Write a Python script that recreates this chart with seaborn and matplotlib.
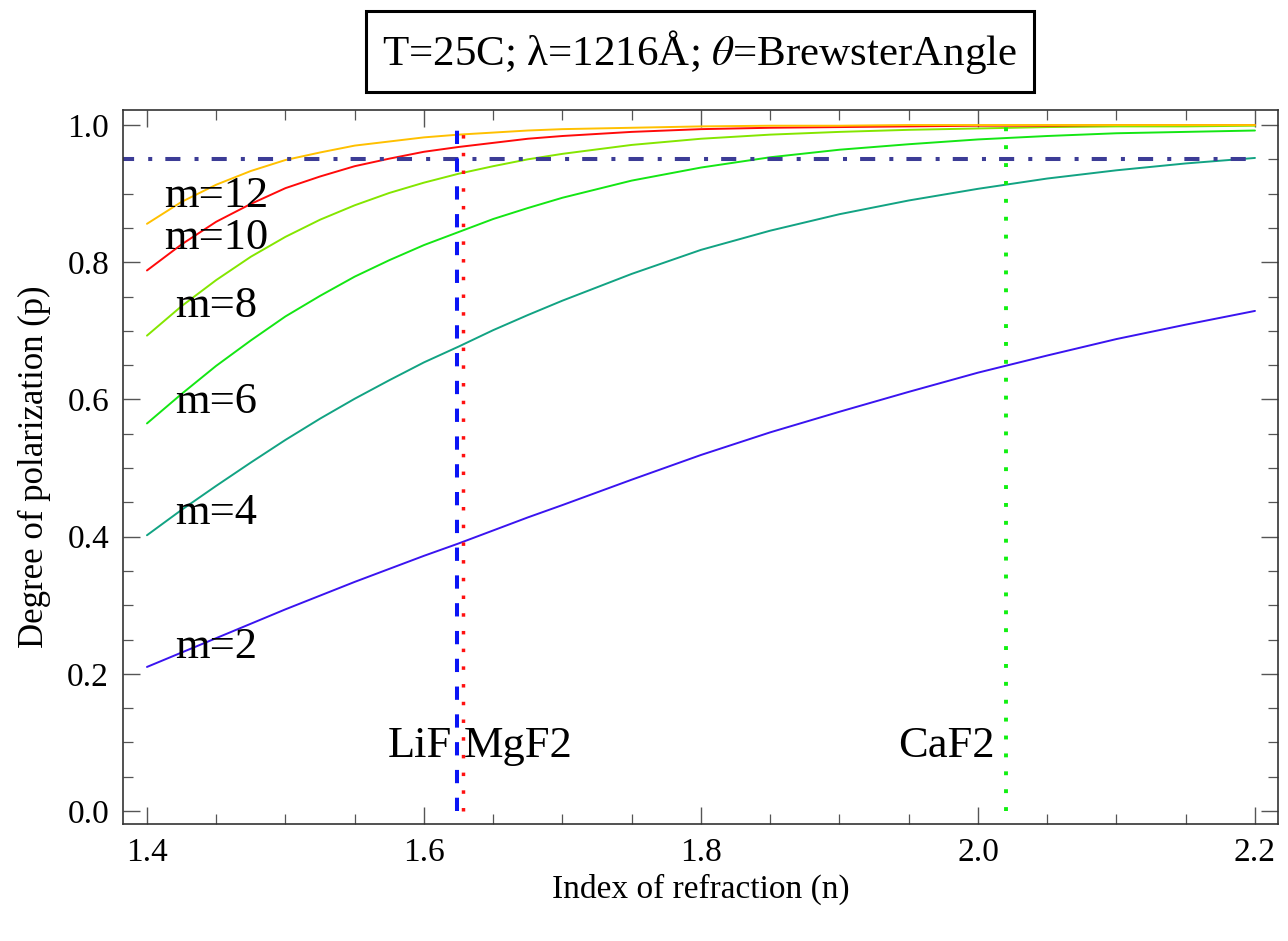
import numpy as np
import pandas as pd
import seaborn as sns
import matplotlib
matplotlib.use("Agg")
import matplotlib.pyplot as plt
from matplotlib.ticker import MultipleLocator

# index of refraction samples
n_vals = [1.40, 1.425, 1.45, 1.475, 1.50, 1.525, 1.55, 1.575, 1.60, 1.625, 1.65, 1.675,
          1.70, 1.75, 1.80, 1.85, 1.90, 1.95, 2.00, 2.05, 2.10, 2.15, 2.20]

# degree of polarization for m plates
p_m2 = [0.210, 0.231, 0.252, 0.273, 0.294, 0.314, 0.334, 0.353, 0.372, 0.390, 0.409, 0.428,
        0.446, 0.483, 0.519, 0.552, 0.582, 0.611, 0.639, 0.664, 0.688, 0.709, 0.729]
p_m4 = [0.402, 0.439, 0.474, 0.508, 0.541, 0.572, 0.601, 0.628, 0.654, 0.677, 0.701, 0.723,
        0.744, 0.783, 0.818, 0.846, 0.870, 0.890, 0.907, 0.922, 0.934, 0.944, 0.952]
p_m6 = [0.565, 0.608, 0.649, 0.686, 0.721, 0.751, 0.779, 0.803, 0.825, 0.844, 0.863, 0.879,
        0.894, 0.919, 0.938, 0.953, 0.964, 0.972, 0.979, 0.984, 0.988, 0.990, 0.992]
p_m8 = [0.693, 0.736, 0.774, 0.808, 0.837, 0.862, 0.883, 0.901, 0.916, 0.929, 0.940, 0.950,
        0.958, 0.971, 0.980, 0.986, 0.990, 0.993, 0.995, 0.997, 0.998, 0.998, 0.999]
p_m10 = [0.788, 0.826, 0.859, 0.885, 0.908, 0.925, 0.940, 0.951, 0.961, 0.968, 0.974, 0.980,
         0.984, 0.990, 0.994, 0.996, 0.997, 0.998, 0.999, 0.999, 1.000, 1.000, 1.000]
p_m12 = [0.856, 0.888, 0.913, 0.933, 0.949, 0.960, 0.970, 0.976, 0.982, 0.986, 0.989, 0.992,
         0.994, 0.996, 0.998, 0.999, 0.999, 1.000, 1.000, 1.000, 1.000, 1.000, 1.000]

m_labels = ["m=2", "m=4", "m=6", "m=8", "m=10", "m=12"]
label_y = [0.2225, 0.418, 0.580, 0.7205, 0.820, 0.881]
curve_colors = ["#3a14f0", "#12a383", "#14e614", "#84e600", "#ff0a0a", "#ffc000"]

# crystals and their index at 1216 A
crystals = ["LiF", "MgF2", "CaF2"]
crystal_n = [1.624, 1.628, 2.020]
p_target = 0.95

sns.set_style("ticks")
plt.rcParams["font.family"] = ["Liberation Serif", "DejaVu Serif"]
plt.rcParams["mathtext.fontset"] = "stix"
plt.rcParams["text.color"] = "black"
plt.rcParams["axes.labelcolor"] = "black"
plt.rcParams["xtick.labelcolor"] = "black"
plt.rcParams["ytick.labelcolor"] = "black"

df = pd.DataFrame({
    "n": n_vals * 6,
    "p": p_m2 + p_m4 + p_m6 + p_m8 + p_m10 + p_m12,
    "m": np.repeat(m_labels, len(n_vals)),
})

fig = plt.figure(figsize=(12.88, 9.41), dpi=100)
ax = fig.add_axes([0.0955, 0.1243, 0.8967, 0.7588])

sns.lineplot(data=df, x="n", y="p", hue="m", palette=dict(zip(m_labels, curve_colors)),
             linewidth=1.4, legend=False, ax=ax)

# reference lines
ax.plot([1.38, 2.2], [p_target, p_target], color="#3c3c96", lw=2.9,
        dashes=(3.75, 3.5, 1.0, 3.25), dash_capstyle="butt")
ax.plot([crystal_n[0]] * 2, [0, 1], color="#0a14f5", lw=2.9,
        dashes=(3.3, 3.6), dash_capstyle="butt")
ax.plot([crystal_n[1]] * 2, [0, 1], color="#ff1010", lw=2.5,
        dashes=(1, 4.1), dash_capstyle="butt")
ax.plot([crystal_n[2]] * 2, [0, 1], color="#10f010", lw=2.8,
        dashes=(1, 3.6), dash_capstyle="butt")

for lab, yv in zip(m_labels, label_y):
    ax.text(1.45, yv, lab, fontsize=32, ha="center", va="baseline")

ax.text(1.620, 0.078, crystals[0], fontsize=32, ha="right", va="baseline")
ax.text(1.629, 0.078, crystals[1], fontsize=32, ha="left", va="baseline")
ax.text(2.012, 0.078, crystals[2], fontsize=32, ha="right", va="baseline")

ax.set_xlim(1.3827, 2.2166)
ax.set_ylim(-0.019, 1.0219)
ax.xaxis.set_major_locator(MultipleLocator(0.2))
ax.xaxis.set_minor_locator(MultipleLocator(0.05))
ax.yaxis.set_major_locator(MultipleLocator(0.2))
ax.yaxis.set_minor_locator(MultipleLocator(0.05))
ax.xaxis.set_major_formatter(lambda v, pos: f"{v:.1f}")
ax.yaxis.set_major_formatter(lambda v, pos: f"{v:.1f}")
ax.tick_params(which="both", direction="in", top=True, right=True, color="#555555")
ax.tick_params(which="major", length=12, width=1.0, labelsize=24, pad=10)
ax.tick_params(which="minor", length=7, width=0.9)
for sp in ax.spines.values():
    sp.set_color("#333333")
    sp.set_linewidth(1.2)

ax.set_xlabel("Index of refraction (n)", fontsize=24, labelpad=4)
ax.set_ylabel("Degree of polarization (p)", fontsize=25, labelpad=12)

fig.text(0.5435, 0.945, "T=25C; λ=1216Å; $\\theta$=BrewsterAngle", fontsize=31,
         ha="center", va="center",
         bbox=dict(boxstyle="square,pad=0.38", fc="white", ec="black", lw=2.2))

fig.savefig("out.png", dpi=100)
